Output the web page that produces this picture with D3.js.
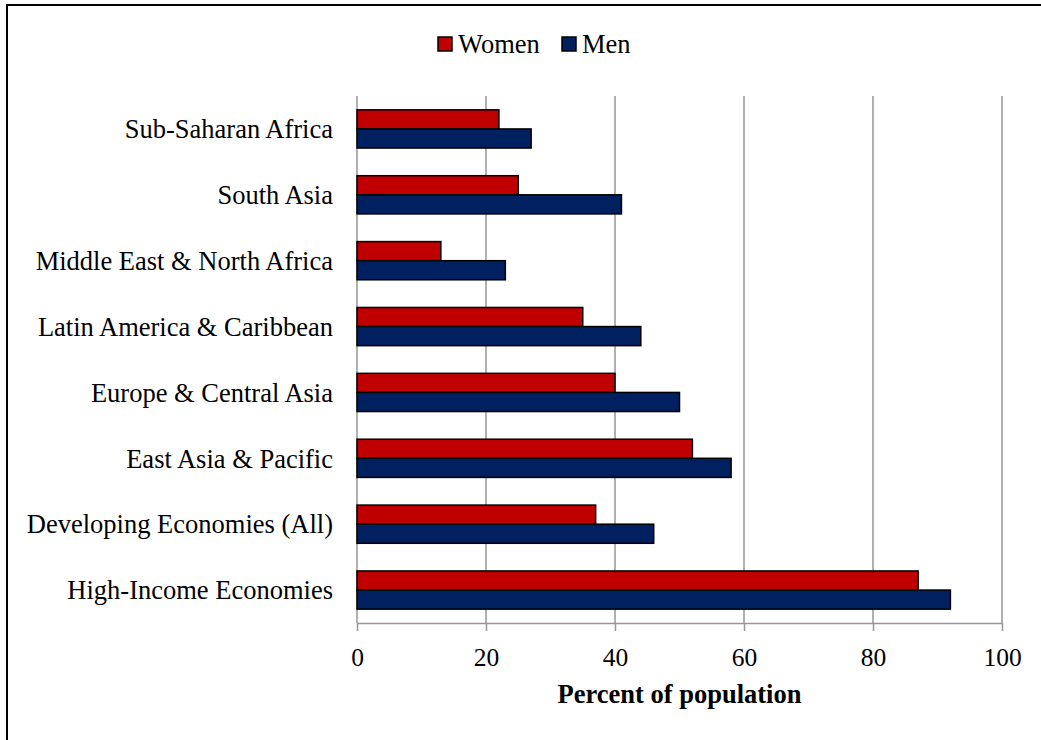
<!DOCTYPE html>
<html>
<head>
<style>
  body, html { margin: 0; padding: 0; background: #fff; }
  svg { display: block; font-family: "Liberation Serif", "Times New Roman", serif; }
</style>
</head>
<body>
<svg id="svg" width="1041" height="740"></svg>
<script src="https://d3js.org/d3.v7.min.js"></script>
<script>
  const regions = ['Sub-Saharan Africa', 'South Asia', 'Middle East & North Africa',
    'Latin America & Caribbean', 'Europe & Central Asia', 'East Asia & Pacific',
    'Developing Economies (All)', 'High-Income Economies']
  const women = [22, 25, 13, 35, 40, 52, 37, 87]
  const men = [27, 41, 23, 44, 50, 58, 46, 92]
  const seriesNames = ['Women', 'Men']
  const seriesColors = ['#c00000', '#002060']
  const ticks = [0, 20, 40, 60, 80, 100]

  const svg = d3.select('#svg')
  const margin = { top: 96, left: 357, right: 1002, bottom: 623 }
  const fontSize = 26.5
  const tickFont = 25.5

  // outer frame (right/bottom edges fall outside the window)
  svg.append('rect')
    .attr('x', 7).attr('y', 5).attr('width', 1100).attr('height', 800)
    .attr('fill', 'none').attr('stroke', '#000').attr('stroke-width', 2)

  const x = d3.scaleLinear().domain([0, 100]).range([margin.left, margin.right])
  const y = d3.scaleBand().domain(regions).range([margin.top, margin.bottom]).paddingInner(0.42).paddingOuter(0.21)
  const sub = d3.scaleBand().domain(seriesNames).range([0, y.bandwidth()])

  // gridlines
  svg.append('g').selectAll('line').data(ticks).enter().append('line')
    .attr('x1', d => x(d)).attr('x2', d => x(d))
    .attr('y1', margin.top).attr('y2', margin.bottom)
    .attr('stroke', '#969696').attr('stroke-width', 1.5)

  const rows = regions.map((r, i) => ({ region: r, values: [women[i], men[i]] }))
  const barGroup = svg.append('g')
  barGroup.selectAll('g').data(rows).enter().append('g')
    .attr('transform', d => `translate(0,${y(d.region)})`)
    .selectAll('rect')
    .data(d => d.values.map((v, j) => ({ name: seriesNames[j], value: v, color: seriesColors[j] })))
    .enter().append('rect')
    .attr('x', x(0))
    .attr('y', d => sub(d.name))
    .attr('width', d => x(d.value) - x(0))
    .attr('height', sub.bandwidth())
    .attr('fill', d => d.color)
    .attr('stroke', '#000').attr('stroke-width', 1.5)

  // x axis
  const bottomAxis = d3.axisBottom(x).tickValues(ticks).tickSize(8).tickSizeOuter(0).tickPadding(17)
  const xg = svg.append('g').attr('transform', `translate(0,${margin.bottom})`).call(bottomAxis)
  xg.select('.domain').attr('stroke', '#969696').attr('stroke-width', 1.5)
  xg.selectAll('.tick line').attr('stroke', '#969696').attr('stroke-width', 1.5)
  xg.selectAll('.tick text').attr('font-size', tickFont).attr('fill', '#000')
    .attr('font-family', '"Liberation Serif", serif')

  // y labels
  svg.append('g').selectAll('text').data(regions).enter().append('text')
    .attr('x', 333).attr('y', d => y(d) + y.bandwidth() / 2)
    .attr('dy', '0.35em').attr('text-anchor', 'end')
    .attr('font-size', fontSize).text(d => d)

  svg.append('text')
    .attr('x', (margin.left + margin.right) / 2).attr('y', 703)
    .attr('text-anchor', 'middle').attr('font-size', fontSize).attr('font-weight', 'bold')
    .text('Percent of population')

  // legend
  const legendX = [438, 562]
  const legend = svg.append('g').selectAll('g').data(seriesNames).enter().append('g')
    .attr('transform', (d, i) => `translate(${legendX[i]},37)`)
  legend.append('rect').attr('width', 14).attr('height', 14)
    .attr('fill', (d, i) => seriesColors[i]).attr('stroke', '#000').attr('stroke-width', 1.5)
  legend.append('text').attr('x', 20).attr('y', 16).attr('font-size', fontSize).text(d => d)
</script>
</body>
</html>
